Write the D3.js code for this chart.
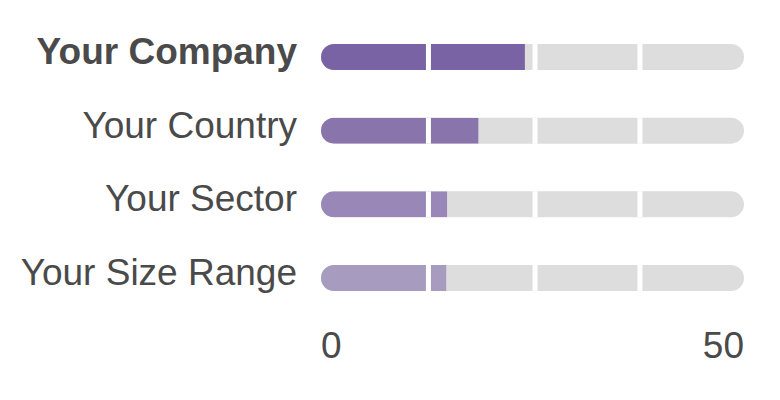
<!DOCTYPE html>
<html>
<head>
<meta charset="utf-8">
<script src="https://cdn.jsdelivr.net/npm/d3@7"></script>
<style>
  body { margin: 0; background: #fff; }
  text { font-family: "Liberation Sans", Arial, Helvetica, sans-serif; }
</style>
</head>
<body>
<div id="chart"></div>
<script>
// chart data
const categories = ["Your Company", "Your Country", "Your Sector", "Your Size Range"];
const values = [24.1, 18.6, 14.9, 14.8];
const colors = ["#7a63a5", "#8975ab", "#9987b7", "#a89bc0"];
const gapTicks = [12.7, 25.3, 37.7];
const axisTicks = [0, 50];

const width = 780, height = 400;
const barH = 26;

const svg = d3.select("#chart")
    .append("svg")
    .attr("width", width)
    .attr("height", height);

const x = d3.scaleLinear().domain([0, 50]).range([321, 744]);
const y = d3.scalePoint().domain(categories).range([57, 278]);

const defs = svg.append("defs");

const rows = svg.selectAll("g.row")
    .data(categories)
    .enter()
    .append("g")
    .attr("class", "row");

// clip each row to the rounded track
rows.each(function(d, i) {
    defs.append("clipPath")
        .attr("id", "clip" + i)
        .append("rect")
        .attr("x", x(0))
        .attr("y", y(d) - barH / 2)
        .attr("width", x(50) - x(0))
        .attr("height", barH)
        .attr("rx", barH / 2);
});

rows.append("rect")
    .attr("x", x(0))
    .attr("y", (d) => y(d) - barH / 2)
    .attr("width", x(50) - x(0))
    .attr("height", barH)
    .attr("rx", barH / 2)
    .style("fill", "#dddddd");

const clipped = rows.append("g")
    .attr("clip-path", (d, i) => "url(#clip" + i + ")");

clipped.append("rect")
    .attr("x", x(0))
    .attr("y", (d) => y(d) - barH / 2)
    .attr("width", (d, i) => x(values[i]) - x(0))
    .attr("height", barH)
    .style("fill", (d, i) => colors[i]);

// white separators across the track
clipped.selectAll("line")
    .data((d) => gapTicks.map((t) => ({ t, cat: d })))
    .enter()
    .append("line")
    .attr("x1", (d) => x(d.t))
    .attr("x2", (d) => x(d.t))
    .attr("y1", (d) => y(d.cat) - barH / 2 - 1)
    .attr("y2", (d) => y(d.cat) + barH / 2 + 1)
    .style("stroke", "#fff")
    .style("stroke-width", 5);

// category labels
rows.append("text")
    .attr("x", 297)
    .attr("y", (d) => y(d) + 7)
    .attr("text-anchor", "end")
    .style("font-size", "37px")
    .style("font-weight", (d, i) => i === 0 ? "bold" : "normal")
    .style("fill", "#4a4a4a")
    .text((d) => d);

// axis labels
svg.selectAll("text.tick")
    .data(axisTicks)
    .enter()
    .append("text")
    .attr("class", "tick")
    .attr("x", (d) => x(d))
    .attr("y", 358)
    .attr("text-anchor", (d, i) => i === 0 ? "start" : "end")
    .style("font-size", "37px")
    .style("fill", "#4a4a4a")
    .text((d) => d);
</script>
</body>
</html>
